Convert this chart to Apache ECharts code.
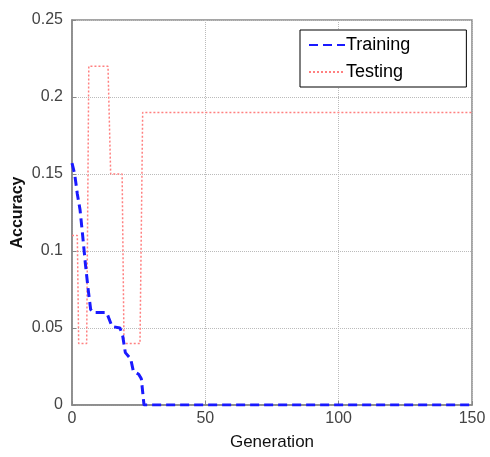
<!DOCTYPE html>
<html>
<head>
<meta charset="utf-8">
<script src="https://cdn.jsdelivr.net/npm/echarts@6/dist/echarts.min.js"></script>
<style>
  html, body { margin: 0; padding: 0; background: #fff; }
  #main { width: 490px; height: 457px; }
</style>
</head>
<body>
<div id="main"></div>
<script>
// training curve [generation, accuracy]
var trainingData = [
  [0, 0.157], [1, 0.15], [2, 0.137], [3, 0.127], [4, 0.11], [5, 0.092],
  [6, 0.076], [7, 0.062], [8, 0.06], [13, 0.06], [15, 0.051], [18, 0.05],
  [19, 0.045], [20, 0.034], [22, 0.03], [23, 0.022], [25, 0.02], [26, 0.017],
  [27, 0], [150, 0]
];
// testing curve (stairs)
var testingData = [
  [0, 0.11], [2, 0.11], [2.5, 0.04], [5.5, 0.04], [6.3, 0.22], [13.5, 0.22],
  [14.5, 0.15], [18.8, 0.15], [19.5, 0.04], [25.5, 0.04], [26.5, 0.19], [150, 0.19]
];
var seriesNames = ['Training', 'Testing'];

var myChart = echarts.init(document.getElementById('main'));

var option = {
  animation: false,
  grid: {
    left: 72, right: 18, top: 20, bottom: 52,
    outerBoundsMode: 'none',
    show: true, borderColor: '#888', borderWidth: 1.5
  },
  legend: {
    orient: 'vertical',
    left: 300, top: 30,
    data: seriesNames,
    itemWidth: 36, itemHeight: 10, itemGap: 9,
    padding: [6, 56, 6, 8],
    borderColor: '#000', borderWidth: 1,
    backgroundColor: '#fff',
    itemStyle: { opacity: 0 },
    textStyle: { fontSize: 18, color: '#000', fontFamily: 'Liberation Sans', padding: [0, 0, 0, -4] }
  },
  xAxis: {
    type: 'value', min: 0, max: 150, interval: 50,
    name: 'Generation', nameLocation: 'middle', nameGap: 29,
    nameMoveOverlap: false,
    nameTextStyle: { fontSize: 17, color: '#111', fontFamily: 'Liberation Sans' },
    axisLine: { show: true, lineStyle: { color: '#888', width: 1.5 } },
    axisTick: { show: true, inside: true, length: 4, lineStyle: { color: '#888' } },
    axisLabel: { fontSize: 16, color: '#444', fontFamily: 'Liberation Sans', margin: 6 },
    splitLine: { show: true, lineStyle: { color: '#bbb', type: 'dotted', width: 1 } }
  },
  yAxis: {
    type: 'value', min: 0, max: 0.25, interval: 0.05,
    name: 'Accuracy', nameLocation: 'middle', nameGap: 46,
    nameMoveOverlap: false,
    nameTextStyle: { fontSize: 16, fontWeight: 'bold', color: '#111', fontFamily: 'Liberation Sans' },
    axisLine: { show: true, lineStyle: { color: '#888', width: 1.5 } },
    axisTick: { show: true, inside: true, length: 4, lineStyle: { color: '#888' } },
    axisLabel: { fontSize: 16, color: '#444', fontFamily: 'Liberation Sans', margin: 9 },
    splitLine: { show: true, lineStyle: { color: '#bbb', type: 'dotted', width: 1 } }
  },
  series: [
    {
      name: seriesNames[0], type: 'line', data: trainingData,
      symbol: 'none', itemStyle: { color: '#1a1aff' },
      lineStyle: { color: '#1a1aff', width: 3, type: [9, 5] }, z: 3
    },
    {
      name: seriesNames[1], type: 'line', data: testingData,
      symbol: 'none', itemStyle: { color: '#ff8080' },
      lineStyle: { color: '#ff8080', width: 1.5, type: [2, 2] }, z: 2
    }
  ]
};
myChart.setOption(option);
</script>
</body>
</html>
